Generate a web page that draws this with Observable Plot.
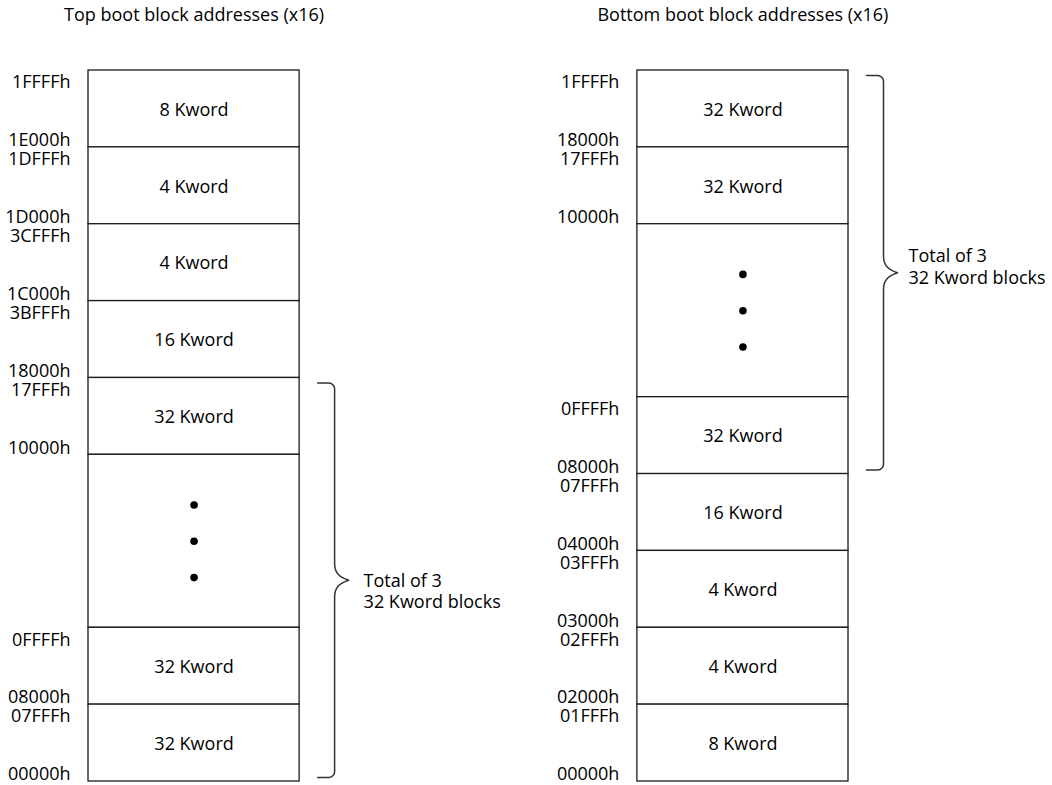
<!DOCTYPE html>
<html>
<head>
<meta charset="utf-8">
<script src="https://cdn.jsdelivr.net/npm/d3@7"></script>
<script src="https://cdn.jsdelivr.net/npm/@observablehq/plot@0.6"></script>
<style>
  html, body { margin: 0; padding: 0; background: #fff; }
  #chart svg { display: block; }
</style>
</head>
<body>
<div id="chart"></div>
<script>
// ---- Data ----
const columns = ["Top boot block addresses (x16)", "Bottom boot block addresses (x16)"];

// "" marks the elided region (drawn with dots)
const topSizes   = ["8 Kword", "4 Kword", "4 Kword", "16 Kword", "32 Kword", "", "32 Kword", "32 Kword"];
const topRows    = [1, 1, 1, 1, 1, 2.25, 1, 1];
const topHigh    = ["1FFFFh", "1DFFFh", "3CFFFh", "3BFFFh", "17FFFh", "", "0FFFFh", "07FFFh"];
const topLow     = ["1E000h", "1D000h", "1C000h", "18000h", "10000h", "", "08000h", "00000h"];

const bottomSizes = ["32 Kword", "32 Kword", "", "32 Kword", "16 Kword", "4 Kword", "4 Kword", "8 Kword"];
const bottomRows  = [1, 1, 2.25, 1, 1, 1, 1, 1];
const bottomHigh  = ["1FFFFh", "17FFFh", "", "0FFFFh", "07FFFh", "03FFFh", "02FFFh", "01FFFh"];
const bottomLow   = ["18000h", "10000h", "", "08000h", "04000h", "03000h", "02000h", "00000h"];

const braceFrom = [4, 0];   // first block index covered by the brace, per column
const braceTo   = [7, 3];   // last block index covered by the brace, per column
const braceLines = ["Total of 3", "32 Kword blocks"];
const dotCount = 3;

// ---- Layout ----
const W = 1052, H = 785;
const mL = 88, mR = 204, mT = 70, mB = 4;
const colStep = 2.6;
const totalRows = d3.sum(topRows);
const pxX = (W - mL - mR) / (colStep + 1);
const pxY = (H - mT - mB) / totalRows;
const FONT = "'Open Sans', 'Noto Sans', sans-serif";
const FS = 18;
const INK = "#000";

// ---- Build tables ----
const colData = [
  {sizes: topSizes, rows: topRows, high: topHigh, low: topLow},
  {sizes: bottomSizes, rows: bottomRows, high: bottomHigh, low: bottomLow}
];
const blocks = [];
colData.forEach((c, ci) => {
  let cum = 0;
  c.sizes.forEach((s, i) => {
    blocks.push({
      col: ci, idx: i,
      x1: ci * colStep, x2: ci * colStep + 1,
      y1: cum, y2: cum + c.rows[i],
      label: s, high: c.high[i], low: c.low[i], gap: s === ""
    });
    cum += c.rows[i];
  });
});
const gaps = blocks.filter(b => b.gap);
const dots = [];
gaps.forEach(g => {
  const mid = (g.y1 + g.y2) / 2;
  const step = (g.y2 - g.y1) * 0.21;
  for (let k = 0; k < dotCount; k++) {
    dots.push({x: (g.x1 + g.x2) / 2, y: mid + (k - (dotCount - 1) / 2) * step});
  }
});
const titles = columns.map((t, ci) => ({x: ci * colStep + 0.5, t}));

// brace geometry (pixel offsets converted to data units)
function bezier(p0, p1, p2, p3, n) {
  const out = [];
  for (let i = 0; i <= n; i++) {
    const t = i / n, u = 1 - t;
    out.push([
      u*u*u*p0[0] + 3*u*u*t*p1[0] + 3*u*t*t*p2[0] + t*t*t*p3[0],
      u*u*u*p0[1] + 3*u*u*t*p1[1] + 3*u*t*t*p2[1] + t*t*t*p3[1]
    ]);
  }
  return out;
}
const braces = [];
const braceLabels = [];
colData.forEach((c, ci) => {
  const bs = blocks.filter(b => b.col === ci);
  const yTop = bs[braceFrom[ci]].y1, yBot = bs[braceTo[ci]].y2;
  const x0 = ci * colStep + 1;
  const top = yTop * pxY + 5, bot = yBot * pxY - 4, mid = (top + bot) / 2;
  const sx = 18, vx = sx + 17, tx = sx + 31, r = 6;
  let pts = [];
  pts.push([sx, top]);
  pts = pts.concat(bezier([vx - r, top], [vx - r * 0.45, top], [vx, top + r * 0.45], [vx, top + r], 6));
  pts = pts.concat(bezier([vx, mid - 17], [vx, mid - 6], [vx + 6, mid - 3], [tx, mid], 10));
  pts = pts.concat(bezier([tx, mid], [vx + 6, mid + 3], [vx, mid + 6], [vx, mid + 17], 10));
  pts = pts.concat(bezier([vx, bot - r], [vx, bot - r * 0.45], [vx - r * 0.45, bot], [vx - r, bot], 6));
  pts.push([sx, bot]);
  pts.forEach(([px, py]) => braces.push({col: ci, x: x0 + px / pxX, y: py / pxY}));
  braceLabels.push({col: ci, x: x0, y: mid / pxY, text: braceLines.join("\n")});
});

const plot = Plot.plot({
  width: W, height: H,
  marginLeft: mL, marginRight: mR, marginTop: mT, marginBottom: mB,
  x: {domain: [0, colStep + 1], axis: null},
  y: {domain: [0, totalRows], reverse: true, axis: null},
  style: {fontFamily: FONT, fontSize: FS + "px", color: INK, background: "#fff", overflow: "visible"},
  marks: [
    Plot.rect(blocks, {x1: "x1", x2: "x2", y1: "y1", y2: "y2", fill: "white", stroke: "#1a1a1a", strokeWidth: 1.3}),
    Plot.text(blocks.filter(b => !b.gap), {x: d => (d.x1 + d.x2) / 2, y: d => (d.y1 + d.y2) / 2, text: "label", dy: 1, fontSize: FS, fill: INK}),
    Plot.text(blocks, {x: "x1", y: "y1", text: "high", textAnchor: "end", dx: -18, dy: 12, fontSize: FS, fill: INK}),
    Plot.text(blocks, {x: "x1", y: "y2", text: "low", textAnchor: "end", dx: -18, dy: -7, fontSize: FS, fill: INK}),
    Plot.dot(dots, {x: "x", y: "y", r: 3.8, fill: "#000", stroke: null}),
    Plot.line(braces, {x: "x", y: "y", z: "col", stroke: "#333", strokeWidth: 1.5, curve: "linear"}),
    Plot.text(braceLabels.filter(d => d.col === 0), {x: "x", y: "y", text: "text", textAnchor: "start", lineAnchor: "top", dx: 64, dy: -9, lineHeight: 1.2, fontSize: FS, fill: INK}),
    Plot.text(braceLabels.filter(d => d.col === 1), {x: "x", y: "y", text: "text", textAnchor: "start", lineAnchor: "top", dx: 60, dy: -26, lineHeight: 1.2, fontSize: FS, fill: INK}),
    Plot.text(titles, {x: "x", frameAnchor: "top", lineAnchor: "middle", text: "t", dy: -55, fontSize: FS, fill: INK})
  ]
});
document.getElementById("chart").appendChild(plot);
</script>
</body>
</html>
